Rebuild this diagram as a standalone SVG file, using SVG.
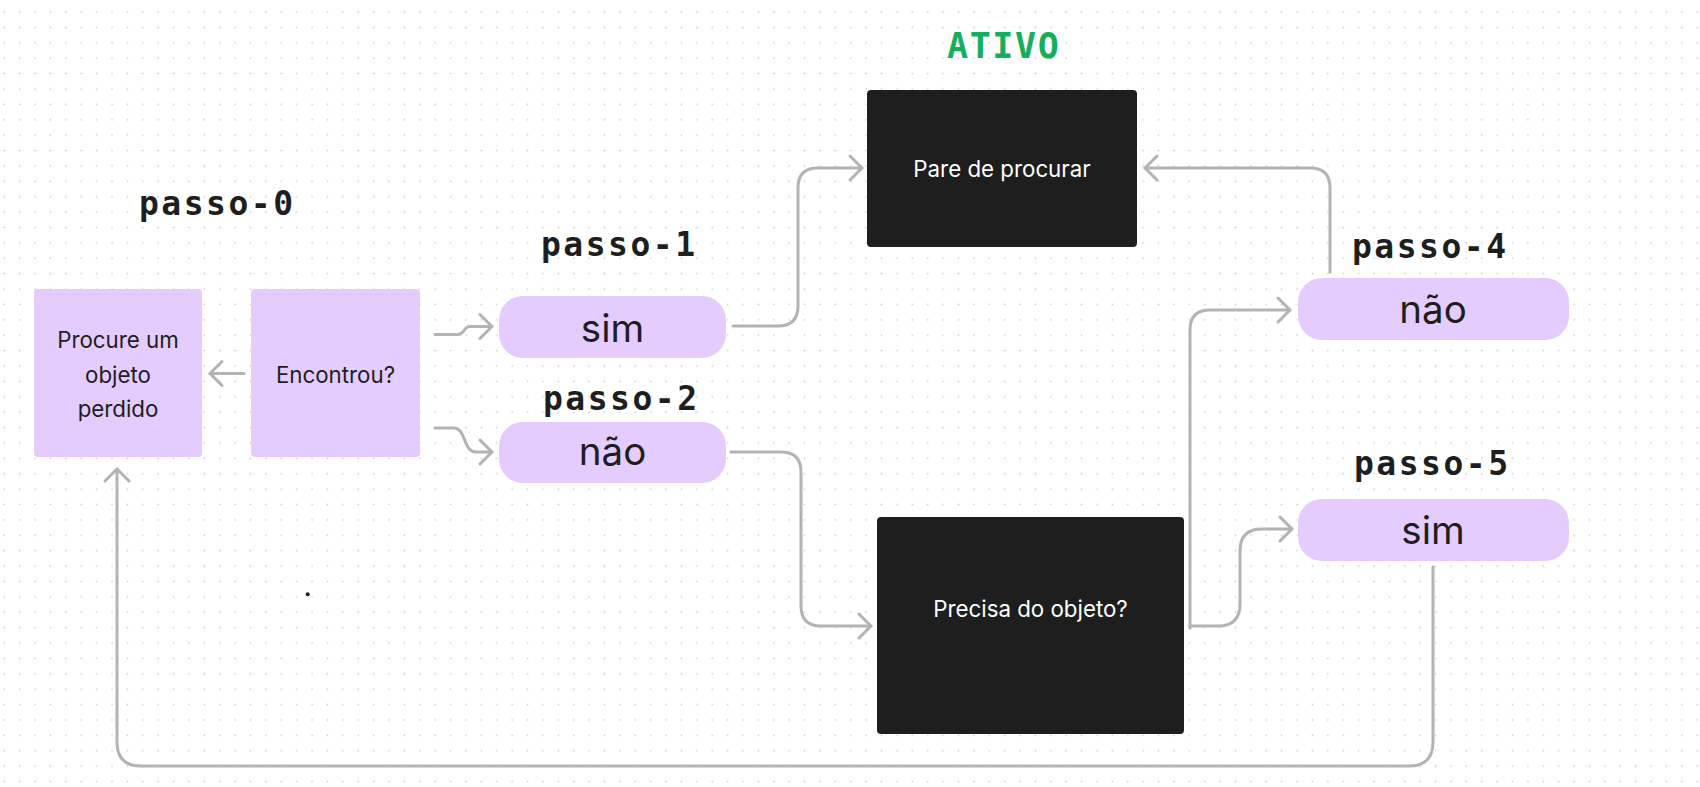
<svg xmlns="http://www.w3.org/2000/svg" width="1700" height="787" viewBox="0 0 1700 787">
  <defs>
    <pattern id="dots" patternUnits="userSpaceOnUse" x="0" y="0" width="15.39" height="15.39">
      <circle cx="4.3" cy="12" r="0.9" fill="#cfcfcf"/>
    </pattern>
    <marker id="arrow" markerUnits="userSpaceOnUse" viewBox="-16 -16 32 32" markerWidth="32" markerHeight="32" refX="0" refY="0" orient="auto">
      <path d="M-12,-12 L0,0 L-12,12" fill="none" stroke="#b3b3b3" stroke-width="3" stroke-linecap="round" stroke-linejoin="round"/>
    </marker>
    <style>
      .conn { fill: none; stroke: #b3b3b3; stroke-width: 3; stroke-linecap: round; stroke-linejoin: round; marker-end: url(#arrow); }
      .purple { fill: #e4ccff; }
      .dark { fill: #1e1e1e; }
      .boxtxt { font-family: Inter, "Liberation Sans", sans-serif; font-size: 22.3px; text-anchor: middle; }
      .pilltxt { font-family: Inter, "Liberation Sans", sans-serif; font-size: 38.5px; text-anchor: middle; fill: #1e1e1e; }
      .label { font-family: "DejaVu Sans Mono", "Liberation Mono", monospace; font-weight: bold; font-size: 33px; letter-spacing: 2.5px; fill: #1e1e1e; }
      .ativo { font-family: "DejaVu Sans Mono", "Liberation Mono", monospace; font-weight: bold; font-size: 35px; letter-spacing: 1.6px; fill: #14ae5c; }
    </style>
  </defs>
  <rect width="1700" height="787" fill="#ffffff"/>
  <rect width="1700" height="787" fill="url(#dots)"/>

  <g id="connectors">
    <path class="conn" d="M244,373.5 H210"/>
    <path class="conn" d="M435,334.5 H458 C465,334.5 463,326.5 470,326.5 H492"/>
    <path class="conn" d="M435,428 H454 C466,428 463,452 476,452 H492"/>
    <path class="conn" d="M733,326 H778 Q798,326 798,306 V188 Q798,168 818,168 H862"/>
    <path class="conn" d="M1330,272 V188 Q1330,168 1310,168 H1145"/>
    <path class="conn" d="M731,452 H781 Q801,452 801,472 V606 Q801,626 821,626 H871"/>
    <path class="conn" d="M1190,628 V330 Q1190,310 1210,310 H1290"/>
    <path class="conn" d="M1190,626 H1218 Q1240,626 1240,604 V551 Q1240,529 1262,529 H1292"/>
    <path class="conn" d="M1433,567 V742 Q1433,766 1409,766 H141 Q117,766 117,742 V469"/>
  </g>

  <g id="label-ativo"><text class="ativo" x="947" y="58">ATIVO</text></g>
  <g id="label-passo-0"><text class="label" x="139" y="215">passo-0</text></g>
  <g id="label-passo-1"><text class="label" x="541" y="256">passo-1</text></g>
  <g id="label-passo-2"><text class="label" x="543" y="410">passo-2</text></g>
  <g id="label-passo-4"><text class="label" x="1352" y="258">passo-4</text></g>
  <g id="label-passo-5"><text class="label" x="1354" y="475">passo-5</text></g>

  <g id="node-procure">
    <rect class="purple" x="34" y="289" width="168" height="168" rx="4"/>
    <text class="boxtxt" fill="#1e1e1e"><tspan x="118" y="348">Procure um</tspan><tspan x="118" y="383">objeto</tspan><tspan x="118" y="417">perdido</tspan></text>
  </g>
  <g id="node-encontrou">
    <rect class="purple" x="251" y="289" width="169" height="168" rx="4"/>
    <text class="boxtxt" fill="#1e1e1e" x="335.5" y="383">Encontrou?</text>
  </g>
  <g id="node-sim-1">
    <rect class="purple" x="499" y="296" width="227" height="62" rx="24"/>
    <text class="pilltxt" x="612.5" y="342">sim</text>
  </g>
  <g id="node-nao-2">
    <rect class="purple" x="499" y="422" width="227" height="61" rx="24"/>
    <text class="pilltxt" x="612.5" y="465">não</text>
  </g>
  <g id="node-pare">
    <rect class="dark" x="867" y="90" width="270" height="157" rx="4"/>
    <text class="boxtxt" fill="#ffffff" x="1002" y="177">Pare de procurar</text>
  </g>
  <g id="node-precisa">
    <rect class="dark" x="877" y="517" width="307" height="217" rx="4"/>
    <text class="boxtxt" fill="#ffffff" x="1030.5" y="617">Precisa do objeto?</text>
  </g>
  <g id="node-nao-4">
    <rect class="purple" x="1298" y="278" width="271" height="62" rx="24"/>
    <text class="pilltxt" x="1433" y="323">não</text>
  </g>
  <g id="node-sim-5">
    <rect class="purple" x="1298" y="499" width="271" height="62" rx="24"/>
    <text class="pilltxt" x="1433" y="544">sim</text>
  </g>

  <circle cx="307.7" cy="594.3" r="2" fill="#1e1e1e"/>
</svg>
